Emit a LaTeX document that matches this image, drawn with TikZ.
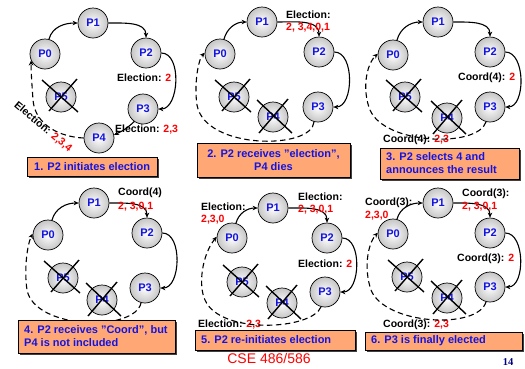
\documentclass[tikz,border=0pt]{standalone}
\usepackage{fontspec}
\setmainfont{Liberation Sans}
\newfontfamily\timesf{Liberation Serif}
\usetikzlibrary{arrows.meta}
\definecolor{pblue}{RGB}{20,20,225}
\definecolor{boxfill}{RGB}{255,168,118}
\definecolor{pred}{RGB}{255,0,0}
\definecolor{navyc}{RGB}{0,0,128}
\tikzset{
  proc/.style={circle, draw=black, line width=0.7pt, minimum size=30pt, inner sep=0pt,
    inner color=white, outer color=gray!45, text=pblue,
    font=\bfseries\fontsize{11}{12}\selectfont},
  xl/.style={line width=1.4pt, black},
  arr/.style={line width=1.1pt, -{Stealth[length=5pt,width=4.5pt]}},
  dsh/.style={line width=1.1pt, dash pattern=on 5.5pt off 3.5pt, -{Stealth[length=5pt,width=4.5pt]}},
  lab/.style={inner sep=0pt, anchor=west, font=\bfseries\fontsize{10.5}{12}\selectfont},
  rlab/.style={lab, text=pred},
  capt/.style={text=pblue, inner sep=0pt,
    font=\bfseries\fontsize{11}{13}\selectfont},
  shd/.style={fill=black!75},
}
\newcommand{\rd}[1]{\textcolor{pred}{#1}}
\newcommand{\capbox}[5]{% name, x1, y1, x2, y2
  \fill[shd] (#2+2,#3+2) rectangle (#4+2,#5+2);
  \draw[draw=black, line width=0.6pt, fill=boxfill] (#2,#3) rectangle (#4,#5);
}
\begin{document}
\begin{tikzpicture}[x=1pt,y=-1pt]
\useasboundingbox[fill=white] (0,0) rectangle (525,368);

% ---------- Panel 1 ----------
\node[proc] (A1) at (93,23) {P1};
\node[proc] (A0) at (45,54) {P0};
\node[proc] (A2) at (146,53) {P2};
\node[proc] (A5) at (61,97) {P5};
\node[proc] (A3) at (143,109) {P3};
\node[proc] (A4) at (99,138) {P4};
\draw[xl] (A5) +(-19,-17) -- +(17,15) (A5) +(16,-18) -- +(-12,14);
\draw[arr] (A0.75) to[out=75,in=180] (A1.west);
\draw[arr] (A1.east) to[out=0,in=90] (A2.north);
\draw[arr] (A2.east) to[out=0,in=0,looseness=0.95] (A3.east);
\draw[arr] (A3.235) to[bend left=10] (A4.12);
\draw[dsh] (A4.west) .. controls (60,137) and (35,125) .. (33,100) .. controls (32,85) and (31,72) .. (A0.205);
\node[lab] (A6) at (117,78) {Election: \rd{2}};
\node[lab] (A7) at (115,130) {Election: \rd{2,3}};
\node[lab, anchor=center, rotate=-40] (A8) at (43,127) {Election: \rd{2,3,4}};
\capbox{A}{27}{157}{157}{176}
\node[capt, anchor=west] (AB) at (34,166.5) {1. P2 initiates election};

% ---------- Panel 2 ----------
\node[proc] (B1) at (262,22) {P1};
\node[proc] (B0) at (220,54) {P0};
\node[proc] (B2) at (319,52) {P2};
\node[proc] (B5) at (234,97) {P5};
\node[proc] (B4) at (273,117) {P4};
\node[proc] (B3) at (318,107) {P3};
\draw[xl] (B5) +(-19,-17) -- +(17,15) (B5) +(16,-18) -- +(-12,14);
\draw[xl] (B4) +(-16,-17) -- +(19,16) (B4) +(15,-18) -- +(-14,16);
\draw[arr] (B0.75) to[out=75,in=180] (B1.west);
\draw[arr] (B1.east) to[out=0,in=90] (B2.north);
\draw[arr] (B2.east) to[out=0,in=0,looseness=0.95] (B3.east);
\draw[dsh] (B3.255) .. controls (312,150) and (205,150) .. (197,105) .. controls (194,85) and (198,60) .. (B0.175);
\node[lab] (B6) at (286,15) {Election:};
\node[rlab] (B7) at (286,28) {2, 3,4,0,1};
\capbox{B}{197}{143}{350}{177}
\node[capt, align=center] (BB) at (273.5,160) {2. P2 receives "election",\\P4 dies};

% ---------- Panel 3 ----------
\node[proc] (C1) at (438,22) {P1};
\node[proc] (C0) at (393,55) {P0};
\node[proc] (C2) at (490,52) {P2};
\node[proc] (C5) at (405,97) {P5};
\node[proc] (C4) at (447,118) {P4};
\node[proc] (C3) at (490,107) {P3};
\draw[xl] (C5) +(-19,-17) -- +(17,15) (C5) +(16,-18) -- +(-12,14);
\draw[xl] (C4) +(-16,-17) -- +(19,16) (C4) +(15,-18) -- +(-14,16);
\draw[arr] (C0.75) to[out=75,in=180] (C1.west);
\draw[arr] (C1.east) to[out=0,in=90] (C2.north);
\draw[arr] (C2.east) to[out=0,in=0,looseness=0.95] (C3.east);
\node[lab] (C6) at (458,78) {Coord(4): \rd{2}};
\node[lab] (C7) at (383,140) {Coord(4): \rd{2,3}};
\draw[dsh] (C3.255) .. controls (478,148) and (385,145) .. (370,110) .. controls (362,90) and (366,65) .. (C0.175);
\capbox{C}{380}{148}{519}{179}
\node[capt, align=left, anchor=west] (CB) at (386,163.5) {3. P2 selects 4 and\\announces the result};

% ---------- Panel 4 ----------
\node[proc] (D1) at (94,203) {P1};
\node[proc] (D0) at (48,235) {P0};
\node[proc] (D2) at (147,233) {P2};
\node[proc] (D5) at (63,278) {P5};
\node[proc] (D4) at (102,300) {P4};
\node[proc] (D3) at (145,288) {P3};
\draw[xl] (D5) +(-19,-17) -- +(17,15) (D5) +(16,-18) -- +(-12,14);
\draw[xl] (D4) +(-16,-17) -- +(19,16) (D4) +(15,-18) -- +(-14,16);
\draw[arr] (D0.75) to[out=75,in=180] (D1.west);
\draw[arr] (D1.east) to[out=0,in=90] (D2.north);
\draw[arr] (D2.east) to[out=0,in=0,looseness=0.95] (D3.east);
\draw[dsh] (D3.255) .. controls (135,332) and (35,330) .. (27,290) .. controls (24,270) and (27,245) .. (D0.175);
\node[lab] (D6) at (118,193) {Coord(4)};
\node[rlab] (D7) at (118,207) {2, 3,0,1};
\capbox{D}{18}{320}{175}{353}
\node[capt, align=left, anchor=west] (DB) at (24,336.5) {4. P2 receives "Coord", but\\P4 is not included};

% ---------- Panel 5 ----------
\node[proc] (E1) at (273,208) {P1};
\node[proc] (E0) at (232,238) {P0};
\node[proc] (E2) at (327,238) {P2};
\node[proc] (E5) at (242,282) {P5};
\node[proc] (E4) at (282,303) {P4};
\node[proc] (E3) at (325,292) {P3};
\draw[xl] (E5) +(-19,-17) -- +(17,15) (E5) +(16,-18) -- +(-12,14);
\draw[xl] (E4) +(-16,-17) -- +(19,16) (E4) +(15,-18) -- +(-14,16);
\draw[arr] (E0.75) to[out=75,in=180] (E1.west);
\draw[arr] (E1.east) to[out=0,in=90] (E2.north);
\draw[arr] (E2.east) to[out=0,in=0,looseness=0.95] (E3.east);
\node[lab] (E6) at (201,207) {Election:};
\node[rlab] (E7) at (201,220) {2,3,0};
\node[lab] (E8) at (298,197) {Election:};
\node[rlab] (E9) at (298,210) {2, 3,0,1};
\node[lab] (E10) at (298,264) {Election: \rd{2}};
\node[lab] (E11) at (198,325) {Election: \rd{2,3}};
\draw[dsh] (E3.255) .. controls (312,330) and (220,335) .. (205,300) .. controls (198,285) and (202,255) .. (E0.175);
\capbox{E}{195}{330}{355}{350}
\node[capt, anchor=west] (EB) at (201,340) {5. P2 re-initiates election};

% ---------- Panel 6 ----------
\node[proc] (F1) at (438,203) {P1};
\node[proc] (F0) at (393,234) {P0};
\node[proc] (F2) at (490,233) {P2};
\node[proc] (F5) at (407,277) {P5};
\node[proc] (F4) at (447,298) {P4};
\node[proc] (F3) at (490,287) {P3};
\draw[xl] (F5) +(-19,-17) -- +(17,15) (F5) +(16,-18) -- +(-12,14);
\draw[xl] (F4) +(-16,-17) -- +(19,16) (F4) +(15,-18) -- +(-14,16);
\draw[arr] (F0.75) to[out=75,in=180] (F1.west);
\draw[arr] (F1.east) to[out=0,in=90] (F2.north);
\draw[arr] (F2.east) to[out=0,in=0,looseness=0.95] (F3.east);
\node[lab] (F6) at (365,203) {Coord(3):};
\node[rlab] (F7) at (365,216) {2,3,0};
\node[lab] (F8) at (462,194) {Coord(3):};
\node[rlab] (F9) at (462,207) {2, 3,0,1};
\node[lab] (F10) at (457,259) {Coord(3): \rd{2}};
\node[lab] (F11) at (383,325) {Coord(3): \rd{2,3}};
\draw[dsh] (F3.255) .. controls (478,330) and (385,325) .. (371,290) .. controls (364,270) and (367,245) .. (F0.175);
\capbox{F}{365}{332}{522}{350}
\node[capt, anchor=west] (FB) at (371,341) {6. P3 is finally elected};

% ---------- footer ----------
\node[inner sep=0pt, text=pred, font=\fontsize{14}{16}\selectfont] (G1) at (269,358) {CSE 486/586};
\node[inner sep=0pt, text=navyc, font=\timesf\bfseries\fontsize{10.5}{12}\selectfont] (G2) at (508,362) {14};
\end{tikzpicture}
\end{document}
